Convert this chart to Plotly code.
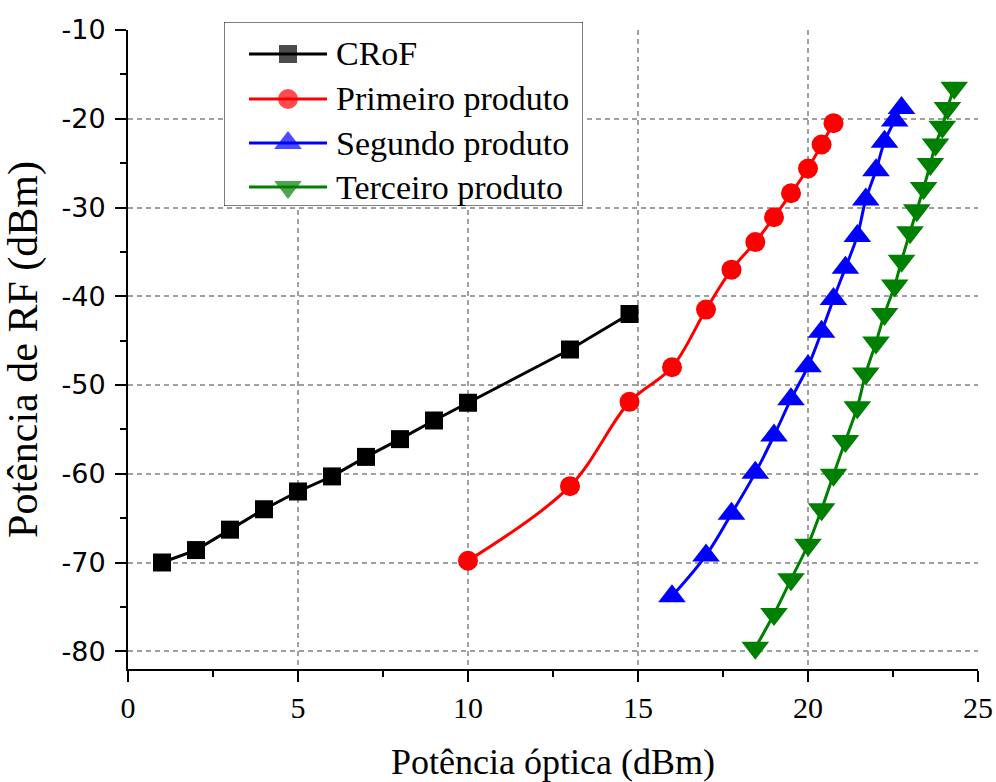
import plotly.graph_objects as go

# Optical input power (dBm) vs. RF power (dBm) for each measured signal
series_names = ["CRoF", "Primeiro produto", "Segundo produto", "Terceiro produto"]

crof_x = [1, 2, 3, 4, 5, 6, 7, 8, 9, 10, 13, 14.75]
crof_y = [-70.0, -68.6, -66.3, -64.0, -62.0, -60.3, -58.1, -56.1, -54.0, -52.0, -46.0, -42.0]

prim_x = [10, 13, 14.75, 16, 17, 17.75, 18.45, 19, 19.5, 20, 20.4, 20.75]
prim_y = [-69.8, -61.4, -51.9, -48.0, -41.5, -37.0, -33.9, -31.1, -28.4, -25.6, -22.9, -20.5]

seg_x = [16, 17, 17.75, 18.45, 19, 19.5, 20, 20.4, 20.75, 21.1, 21.45, 21.7, 22, 22.25, 22.55, 22.75]
seg_y = [-73.8, -69.2, -64.5, -59.9, -55.7, -51.6, -47.9, -44.0, -40.3, -36.8, -33.2, -29.1,
         -25.8, -22.6, -20.2, -18.8]

terc_x = [18.45, 19, 19.5, 20, 20.4, 20.75, 21.1, 21.45, 21.7, 22, 22.25, 22.55, 22.75, 23,
          23.2, 23.4, 23.6, 23.75, 23.95, 24.1, 24.3]
terc_y = [-79.6, -75.8, -71.9, -68.0, -64.0, -60.1, -56.3, -52.5, -48.7, -45.2, -42.0, -38.8,
          -36.0, -32.8, -30.3, -27.8, -25.1, -22.9, -20.9, -18.8, -16.5]

x_ticks = [0, 5, 10, 15, 20, 25]
y_ticks = [-80, -70, -60, -50, -40, -30, -20, -10]

SERIF = "Liberation Serif"
SANS = "DejaVu Sans"
styles = [
    dict(color="#000000", symbol="square", size=18, shape="linear"),
    dict(color="#FF0000", symbol="circle", size=20, shape="spline"),
    dict(color="#0000FF", symbol="triangle-up", size=24, shape="spline"),
    dict(color="#008000", symbol="triangle-down", size=24, shape="spline"),
]
data = [(crof_x, crof_y), (prim_x, prim_y), (seg_x, seg_y), (terc_x, terc_y)]

fig = go.Figure()
for name, (xs, ys), st in zip(series_names, data, styles):
    fig.add_trace(go.Scatter(
        x=xs, y=ys, name=name, mode="lines+markers", showlegend=False,
        line=dict(color=st["color"], width=3, shape=st["shape"]),
        marker=dict(symbol=st["symbol"], size=st["size"], color=st["color"],
                    line=dict(width=0)),
    ))

# Key drawn on its own small pixel-scaled axes (box is 359 x 184 px)
key_rows = [32, 77, 121, 165]
for name, row, st in zip(series_names, key_rows, styles):
    fig.add_trace(go.Scatter(
        x=[25, 64, 103], y=[row, row, row], mode="lines+markers", showlegend=False,
        xaxis="x2", yaxis="y2", hoverinfo="skip",
        line=dict(color=st["color"], width=3),
        marker=dict(symbol=st["symbol"], size=[0, st["size"], 0], color=st["color"],
                    line=dict(width=0)),
    ))
    fig.add_annotation(x=110, y=row, xref="x2", yref="y2", text=name, showarrow=False,
                       xanchor="left", yanchor="middle",
                       font=dict(family=SERIF, size=34, color="black"))
fig.add_shape(type="rect", xref="x2", yref="y2", x0=0, x1=359, y0=0, y1=184,
              line=dict(color="black", width=1), fillcolor="white", layer="below")

axis_common = dict(
    showline=True, linecolor="black", linewidth=2, mirror=False,
    ticks="outside", ticklen=11, tickwidth=2, tickcolor="black",
    showgrid=True, gridcolor="#a0a0a0", gridwidth=1.5, griddash="5px,4px",
    zeroline=False, automargin=False,
)

fig.update_layout(
    width=996, height=782,
    margin=dict(l=128, r=18, t=10, b=113),
    paper_bgcolor="white", plot_bgcolor="white",
    font=dict(family=SERIF, color="black"),
    xaxis=dict(
        **axis_common, domain=[0, 1], range=[0, 25],
        tickvals=x_ticks, ticktext=[str(v) for v in x_ticks],
        tickfont=dict(family=SERIF, size=30, color="black"),
        minor=dict(dtick=2.5, ticks="outside", ticklen=6, tickwidth=2,
                   tickcolor="black", showgrid=False),
        title=dict(text="Potência óptica (dBm)", standoff=29,
                   font=dict(family=SERIF, size=36, color="black")),
    ),
    yaxis=dict(
        **axis_common, domain=[0, 639 / 659], range=[-82, -10],
        tickvals=y_ticks, ticktext=[str(v) for v in y_ticks],
        tickfont=dict(family=SANS, size=27, color="black"),
        ticklabelstandoff=4,
        minor=dict(dtick=5, tick0=0, ticks="outside", ticklen=6, tickwidth=2,
                   tickcolor="black", showgrid=False),
        title=dict(text="Potência de RF (dBm)", standoff=12,
                   font=dict(family=SERIF, size=42, color="black")),
    ),
    xaxis2=dict(domain=[96 / 850, 455 / 850], range=[0, 359], visible=False,
                anchor="y2", fixedrange=True),
    yaxis2=dict(domain=[463 / 659, 647 / 659], range=[184, 0], visible=False,
                anchor="x2", fixedrange=True),
)

fig.write_html("out.html")
